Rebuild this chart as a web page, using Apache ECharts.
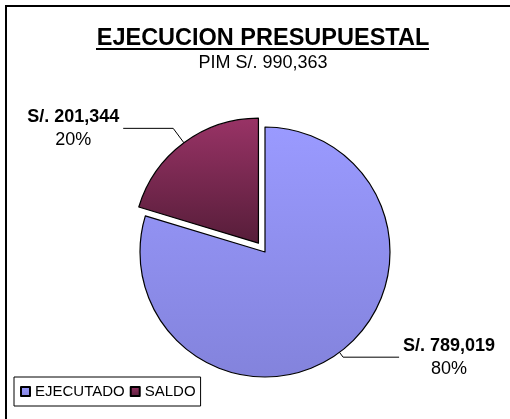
<!DOCTYPE html>
<html>
<head>
<meta charset="utf-8">
<script src="https://cdn.jsdelivr.net/npm/echarts@6/dist/echarts.min.js"></script>
<style>
  html, body { margin: 0; padding: 0; background: #fff; }
  #chart { width: 510px; height: 419px; }
</style>
</head>
<body>
<div id="chart"></div>
<script>
// datos del grafico
const categories = ['EJECUTADO', 'SALDO'];
const amounts = [789019, 201344];
const titleText = 'EJECUCION PRESUPUESTAL';

const fmt = v => 'S/. ' + v.toLocaleString('en-US');
const pim = amounts.reduce((a, b) => a + b, 0);

// colores con degradado (arriba -> abajo)
const fills = [
  new echarts.graphic.LinearGradient(0, 0, 0, 1, [
    { offset: 0, color: '#9a9aff' },
    { offset: 1, color: '#8383dc' }
  ]),
  new echarts.graphic.LinearGradient(0, 0, 0, 1, [
    { offset: 0, color: '#993366' },
    { offset: 1, color: '#561d39' }
  ])
];
// largo de las lineas guia por porcion
const guides = [
  { length: 6, length2: 56 },
  { length: 18, length2: 50 }
];

const chart = echarts.init(document.getElementById('chart'));
const font = 'Liberation Sans, Arial, sans-serif';

chart.setOption({
  animation: false,
  backgroundColor: '#fff',
  textStyle: { fontFamily: font },
  title: {
    text: titleText,
    subtext: 'PIM ' + fmt(pim),
    left: 258,
    textAlign: 'center',
    top: 22,
    itemGap: 3,
    textStyle: { fontFamily: font, fontSize: 23.5, fontWeight: 'bold', color: '#000' },
    subtextStyle: { fontFamily: font, fontSize: 18, color: '#000' }
  },
  legend: {
    left: 14,
    top: 377,
    orient: 'horizontal',
    icon: 'rect',
    itemWidth: 9,
    itemHeight: 9,
    itemGap: 5,
    padding: [7, 5, 7, 6],
    borderColor: '#000',
    borderWidth: 1,
    selectedMode: false,
    textStyle: { fontFamily: font, fontSize: 15, color: '#000' },
    data: categories
  },
  graphic: [
    {
      // marco exterior (solo se ve arriba y a la izquierda)
      type: 'rect',
      shape: { x: 6, y: 6, width: 700, height: 700 },
      style: { fill: 'none', stroke: '#000', lineWidth: 2 },
      silent: true
    },
    {
      // subrayado del titulo
      type: 'line',
      shape: { x1: 96, y1: 49, x2: 429, y2: 49 },
      style: { stroke: '#000', lineWidth: 2 },
      silent: true
    }
  ],
  series: [
    {
      type: 'pie',
      center: [265, 252],
      radius: 125,
      startAngle: 90,
      clockwise: true,
      selectedMode: 'single',
      selectedOffset: 11,
      emphasis: { disabled: true },
      itemStyle: { borderColor: '#000', borderWidth: 1.2 },
      label: {
        show: true,
        position: 'outside',
        alignTo: 'none',
        distanceToLabelLine: 2,
        color: '#000',
        formatter: p => '{v|' + fmt(p.value) + '}\n{p|' + Math.round(p.percent) + '%}',
        rich: {
          v: { fontFamily: font, fontSize: 18, fontWeight: 'bold', width: 96, align: 'center', lineHeight: 23, color: '#000' },
          p: { fontFamily: font, fontSize: 18, width: 96, align: 'center', lineHeight: 23, color: '#000' }
        }
      },
      labelLine: {
        show: true,
        smooth: false,
        lineStyle: { color: '#000', width: 1 }
      },
      data: categories.map((name, i) => ({
        name: name,
        value: amounts[i],
        selected: name === 'SALDO',
        itemStyle: { color: fills[i] },
        labelLine: guides[i]
      }))
    }
  ]
});
</script>
</body>
</html>
